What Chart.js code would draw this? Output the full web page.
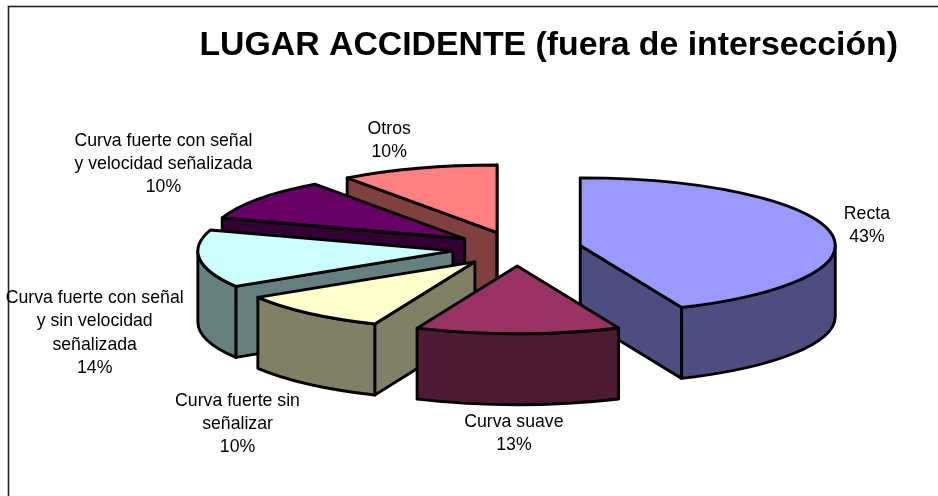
<!DOCTYPE html>
<html><head><meta charset="utf-8">
<style>html,body{margin:0;padding:0;background:#fff}#w{width:938px;height:496px;position:relative}canvas{display:block}</style>
<script src="https://cdn.jsdelivr.net/npm/chart.js@4"></script></head>
<body><div id="w"><canvas id="c" width="938" height="496"></canvas></div>
<script>
const TITLE = 'LUGAR ACCIDENTE (fuera de intersección)';
const categories = ['Recta','Curva suave','Curva fuerte sin señalizar','Curva fuerte con señal y sin velocidad señalizada','Curva fuerte con señal y velocidad señalizada','Otros'];
const labelLines = [['Recta'],['Curva suave'],['Curva fuerte sin','señalizar'],['Curva fuerte con señal','y sin velocidad','señalizada'],['Curva fuerte con señal','y velocidad señalizada'],['Otros']];
const percents = [43.49,12.93,9.78,13.8,10,10];
const topColors = ['#9999FF','#993366','#FFFFCC','#CCFFFF','#660066','#FF8080'];
const sideColors = ['#4D4D80','#4D1A33','#808066','#668080','#330033','#804040'];

// view settings of the tilted pie
const TILT = 0.265, DEPTH = 71, EXPLODE = 64.6, RADIUS = 255, EDGE = 2.9;
const paintOrder = [0,5,4,3,2,1];
const labelNudge = [[37,-6],[-4,100],[-71,111],[-105,74],[-95,-35],[-29,-28]];

const pie3d = {
  id:'pie3d',
  beforeDraw(chart){
    const c = chart.ctx;
    c.save(); c.strokeStyle='#222'; c.lineWidth=1.6;
    c.strokeRect(8.5,6.5,chart.width+20,chart.height+20); c.restore();
  },
  beforeDatasetDraw(chart,args){
    const c = chart.ctx, arcs = args.meta.data;
    const geo = a=>{
      const mid=(a.startAngle+a.endAngle)/2;
      return {s:a.startAngle,e:a.endAngle,mid,r:a.outerRadius,
        x:a.x+Math.cos(mid)*EXPLODE, y:a.y+Math.sin(mid)*EXPLODE*TILT};
    };
    const pt=(g,ang,dz=0)=>[g.x+g.r*Math.cos(ang), g.y+g.r*TILT*Math.sin(ang)+dz];
    const shape=(fill,build)=>{
      c.beginPath(); build(); c.closePath();
      if(fill){c.fillStyle=fill;c.fill();}
      c.lineWidth=EDGE;c.strokeStyle='#000';c.lineJoin='round';c.stroke();
    };
    const radial=(g,ang,col)=>shape(col,()=>{
      c.moveTo(g.x,g.y); c.lineTo(...pt(g,ang)); c.lineTo(...pt(g,ang,DEPTH)); c.lineTo(g.x,g.y+DEPTH);
    });
    const outer=(g,a1,a2,col)=>shape(col,()=>{
      c.ellipse(g.x,g.y,g.r,g.r*TILT,0,a1,a2);
      c.lineTo(...pt(g,a2,DEPTH));
      c.ellipse(g.x,g.y+DEPTH,g.r,g.r*TILT,0,a2,a1,true);
    });
    for(const i of paintOrder){
      const a=arcs[i], g=geo(a);
      if(Math.cos(g.s)<-1e-3) radial(g,g.s,sideColors[i]);
      if(Math.cos(g.e)>-1e-3) radial(g,g.e,sideColors[i]);
      for(const k of [0,2*Math.PI]){
        const a1=Math.max(g.s,k), a2=Math.min(g.e,k+Math.PI);
        if(a2>a1) outer(g,a1,a2,sideColors[i]);
      }
      // top face drawn by the library's arc element, flattened
      c.save();
      c.translate(g.x,g.y); c.scale(1,TILT); c.translate(-a.x,-a.y);
      a.draw(c);
      c.restore();
      shape(null,()=>{ c.moveTo(g.x,g.y); c.ellipse(g.x,g.y,g.r,g.r*TILT,0,g.s,g.e); });
    }
    // labels
    c.save();
    c.font='17.7px "Liberation Sans"'; c.fillStyle='#000'; c.textAlign='center'; c.textBaseline='middle';
    arcs.forEach((a,i)=>{
      const g=geo(a), p=pt(g,g.mid);
      const lines=[...labelLines[i], Math.round(percents[i])+'%'], lh=23.4;
      const cx=p[0]+labelNudge[i][0], cy=p[1]+labelNudge[i][1];
      lines.forEach((t,j)=>c.fillText(t,cx,cy+(j-(lines.length-1)/2)*lh));
    });
    c.restore();
    return false;
  }
};

new Chart(document.getElementById('c'),{
  type:'pie',
  data:{labels:categories,datasets:[{data:percents,backgroundColor:topColors,borderWidth:0}]},
  options:{
    responsive:false,animation:false,radius:RADIUS,
    layout:{padding:{top:0,left:136,right:40,bottom:63.8}},
    plugins:{legend:{display:false},tooltip:{enabled:false},
      title:{display:true,text:TITLE,align:'end',color:'#000',
        font:{family:'"Liberation Sans"',size:33.8,weight:'bold'},
        padding:{top:25,bottom:0}}}
  },
  plugins:[pie3d]
});
</script></body></html>
